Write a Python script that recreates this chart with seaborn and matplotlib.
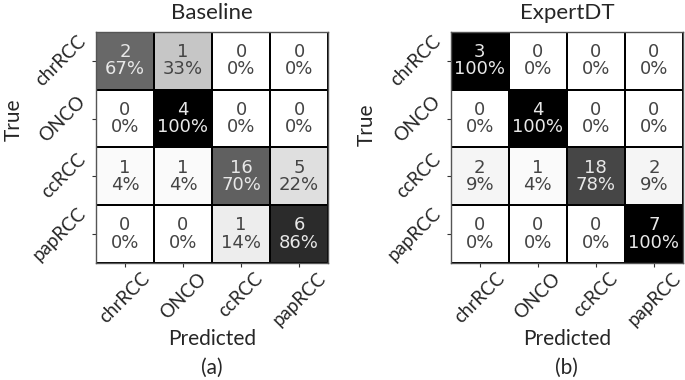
import matplotlib
matplotlib.use("Agg")
import matplotlib.pyplot as plt
import numpy as np
import seaborn as sns

CLASSES = ["chrRCC", "ONCO", "ccRCC", "papRCC"]

baseline_counts = [
    [2, 1, 0, 0],
    [0, 4, 0, 0],
    [1, 1, 16, 5],
    [0, 0, 1, 6],
]
expertdt_counts = [
    [3, 0, 0, 0],
    [0, 4, 0, 0],
    [2, 1, 18, 2],
    [0, 0, 0, 7],
]

panels = [("Baseline", baseline_counts, "(a)"), ("ExpertDT", expertdt_counts, "(b)")]

sns.set_style("white")
plt.rcParams['font.family'] = ['Lato', 'DejaVu Sans']

fig = plt.figure(figsize=(6.85, 3.8), dpi=100)
axes_rects = [[0.140, 0.308, 0.339, 0.608], [0.658, 0.308, 0.339, 0.608]]
true_pos = [(-0.31, 0.62), (-0.32, 0.60)]

for rect, tpos, (title, counts, tag) in zip(axes_rects, true_pos, panels):
    ax = fig.add_axes(rect)
    cm = np.array(counts, dtype=float)
    pct = cm / cm.sum(axis=1, keepdims=True)
    labels = np.array([[f"{int(c)}\n{p * 100:.0f}%" for c, p in zip(rc, rp)]
                       for rc, rp in zip(cm, pct)])
    sns.heatmap(pct, annot=labels, fmt="", cmap="Greys", vmin=0, vmax=1,
                cbar=False, linewidths=1.2, linecolor="black", square=False,
                xticklabels=CLASSES, yticklabels=CLASSES, ax=ax,
                annot_kws={"fontsize": 13, "family": "DejaVu Sans",
                           "linespacing": 0.95})
    # grey text on light cells, light text on dark cells
    for txt, p in zip(ax.texts, pct.flatten()):
        txt.set_color("#e8e8e8" if p > 0.5 else "#444444")

    for sp in ax.spines.values():
        sp.set_visible(True)
        sp.set_color("#555555")
        sp.set_linewidth(1.0)

    ax.tick_params(axis="both", which="both", length=3, width=0.8,
                   color="#333333", labelsize=13.5, pad=2)
    ax.tick_params(left=True, bottom=True)
    plt.setp(ax.get_xticklabels(), rotation=45, ha="center", va="top")
    plt.setp(ax.get_yticklabels(), rotation=45, ha="right", va="center")
    ax.set_title(title, fontsize=16, pad=9)
    ax.set_ylabel("True", fontsize=15)
    ax.yaxis.set_label_coords(*tpos)
    ax.set_xlabel("Predicted", fontsize=15)
    ax.xaxis.set_label_coords(0.5, -0.285)
    ax.text(0.5, -0.455, tag, transform=ax.transAxes, ha="center", va="center",
            fontsize=15)

fig.savefig("out.png", dpi=100)
